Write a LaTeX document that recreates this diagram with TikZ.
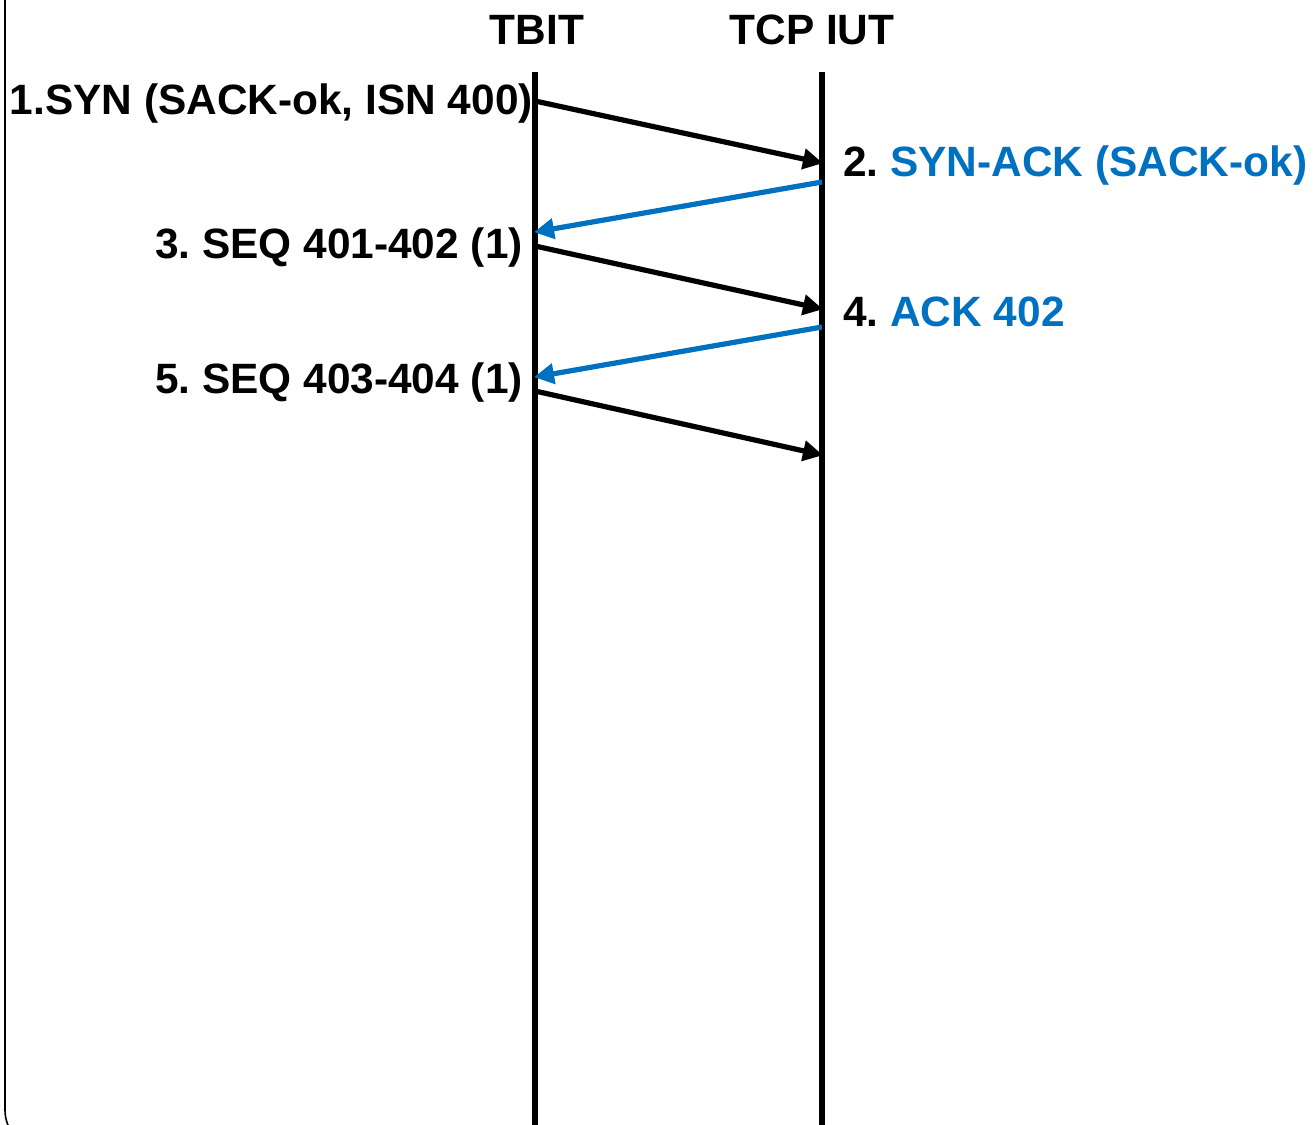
\documentclass[tikz,border=0pt]{standalone}
\usepackage{fontspec}
\setmainfont{Liberation Sans}
\usetikzlibrary{arrows.meta}
\definecolor{msgblue}{HTML}{0070C0}
\frenchspacing
\begin{document}
\begin{tikzpicture}[x=1pt,y=-1pt,
  lbl/.style={font=\frenchspacing\bfseries\fontsize{42.4}{42.4}\selectfont, inner sep=0pt},
  life/.style={line width=6pt},
  msg/.style={line width=5.2pt, -{Triangle[length=20pt,width=20pt]}, shorten >=-1pt},
  bluemsg/.style={msg, draw=msgblue}]
\useasboundingbox (0,0) rectangle (1313,1124);
\clip (0,0) rectangle (1313,1124);
\fill[white] (0,0) rectangle (1313,1124);
\draw[line width=1.6pt, rounded corners=40pt] (5,-60) rectangle (1360,1150);
% lifelines
\coordinate (ta) at (535,72);
\coordinate (tb) at (535,1130);
\coordinate (ia) at (822,72);
\coordinate (ib) at (822,1130);
\draw[life] (ta) -- (tb);
\draw[life] (ia) -- (ib);
% headers
\node[lbl] (htbit) at (537,30) {TBIT};
\node[lbl] (hiut) at (812,30) {TCP IUT};
% message endpoints
\coordinate (m1s) at (535,101); \coordinate (m1e) at (822,163);
\coordinate (m2s) at (822,182); \coordinate (m2e) at (535,232);
\coordinate (m3s) at (535,246); \coordinate (m3e) at (822,309);
\coordinate (m4s) at (822,327); \coordinate (m4e) at (535,377);
\coordinate (m5s) at (535,391); \coordinate (m5e) at (822,455);
\draw[msg] (m1s) -- (m1e);
\draw[bluemsg] (m2s) -- (m2e);
\draw[msg] (m3s) -- (m3e);
\draw[bluemsg] (m4s) -- (m4e);
\draw[msg] (m5s) -- (m5e);
% labels
\node[lbl, anchor=east] (l1) at (533,104) {1.SYN (SACK-ok, ISN 400)};
\node[lbl, anchor=west] (l2) at (843,166) {2. \textcolor{msgblue}{SYN-ACK (SACK-ok)}};
\node[lbl, anchor=east] (l3) at (523,248) {3. SEQ 401-402 (1)};
\node[lbl, anchor=west] (l4) at (843,312) {4. \textcolor{msgblue}{ACK 402}};
\node[lbl, anchor=east] (l5) at (523,383) {5. SEQ 403-404 (1)};
\end{tikzpicture}
\end{document}
